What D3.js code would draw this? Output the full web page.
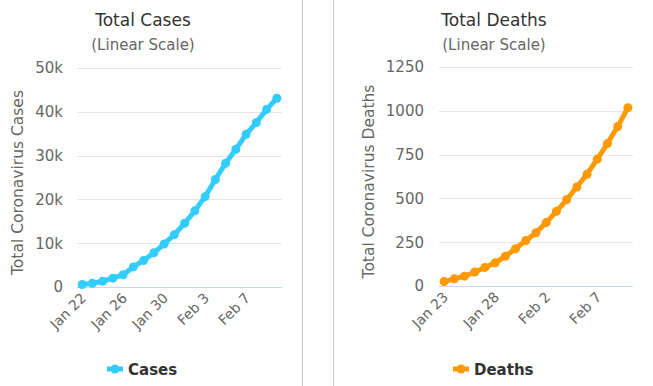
<!DOCTYPE html>
<html>
<head>
<meta charset="utf-8">
<script src="https://cdn.jsdelivr.net/npm/d3@7"></script>
<style>
  html, body { margin: 0; padding: 0; background: #fff; }
  svg { display: block; font-family: "DejaVu Sans", Verdana, sans-serif; }
</style>
</head>
<body>
<svg id="chart" width="653" height="386"></svg>
<script>
// ---- Data ----
const caseDates = ["Jan 22","Jan 23","Jan 24","Jan 25","Jan 26","Jan 27","Jan 28","Jan 29","Jan 30","Jan 31",
                   "Feb 1","Feb 2","Feb 3","Feb 4","Feb 5","Feb 6","Feb 7","Feb 8","Feb 9","Feb 10"];
const caseValues = [580, 845, 1317, 2015, 2800, 4581, 6058, 7813, 9823, 11950,
                    14553, 17391, 20630, 24545, 28266, 31439, 34876, 37552, 40553, 43099];
const caseTickLabels = ["Jan 22","Jan 26","Jan 30","Feb 3","Feb 7"];
const caseYTicks = [0, 10000, 20000, 30000, 40000, 50000];
const caseYTickLabels = ["0","10k","20k","30k","40k","50k"];

const deathDates = ["Jan 23","Jan 24","Jan 25","Jan 26","Jan 27","Jan 28","Jan 29","Jan 30","Jan 31",
                    "Feb 1","Feb 2","Feb 3","Feb 4","Feb 5","Feb 6","Feb 7","Feb 8","Feb 9","Feb 10"];
const deathValues = [25, 41, 56, 80, 106, 132, 170, 213, 259,
                     304, 362, 426, 492, 565, 638, 724, 813, 910, 1018];
const deathTickLabels = ["Jan 23","Jan 28","Feb 2","Feb 7"];
const deathYTicks = [0, 250, 500, 750, 1000, 1250];
const deathYTickLabels = ["0","250","500","750","1000","1250"];

const svg = d3.select("#chart");
svg.append("rect").attr("width", 653).attr("height", 386).attr("fill", "#fff");

// panel dividers
[302.5, 333.5].forEach(x => {
  svg.append("line").attr("x1", x).attr("x2", x).attr("y1", 0).attr("y2", 386)
    .attr("stroke", "#cccccc").attr("stroke-width", 1);
});

function drawPanel(cfg) {
  const g = svg.append("g");
  const x = d3.scalePoint().domain(cfg.dates).range([cfg.x0, cfg.x1]).padding(0.5);
  const y = d3.scaleLinear().domain([0, cfg.yMax]).range([cfg.yBottom, cfg.yTop]);

  // title & subtitle
  g.append("text").attr("x", cfg.titleX).attr("y", 26).attr("text-anchor", "middle")
    .attr("font-size", 17).attr("fill", "#333333").text(cfg.title);
  g.append("text").attr("x", cfg.titleX).attr("y", 50).attr("text-anchor", "middle")
    .attr("font-size", 15).attr("fill", "#666666").text("(Linear Scale)");

  // grid lines
  g.selectAll(".grid").data(cfg.yTicks.filter(v => v > 0)).enter().append("line")
    .attr("x1", cfg.x0).attr("x2", cfg.x1)
    .attr("y1", d => Math.round(y(d)) + 0.5).attr("y2", d => Math.round(y(d)) + 0.5)
    .attr("stroke", "#e6e6e6").attr("stroke-width", 1);

  // y tick labels
  g.selectAll(".yl").data(cfg.yTicks).enter().append("text")
    .attr("x", cfg.yLabelX).attr("y", d => y(d)).attr("dy", "0.36em")
    .attr("text-anchor", "end").attr("font-size", 15).attr("fill", "#666666")
    .text((d, i) => cfg.yTickLabels[i]);

  // y axis title
  g.append("text")
    .attr("transform", `translate(${cfg.yTitleX},${(cfg.yTop + cfg.yBottom) / 2 + 5}) rotate(-90)`)
    .attr("text-anchor", "middle").attr("font-size", 15.5).attr("fill", "#666666")
    .text(cfg.yTitle);

  // x axis line
  g.append("line").attr("x1", cfg.x0).attr("x2", cfg.x1)
    .attr("y1", Math.round(cfg.yBottom) + 0.5).attr("y2", Math.round(cfg.yBottom) + 0.5)
    .attr("stroke", "#ccd6eb").attr("stroke-width", 1);

  // x tick labels (rotated)
  g.selectAll(".xl").data(cfg.tickLabels).enter().append("text")
    .attr("transform", d => `translate(${x(d) + 5},${cfg.yBottom + 12}) rotate(-45)`)
    .attr("text-anchor", "end").attr("font-size", 14).attr("fill", "#666666")
    .text(d => d);

  // line
  const line = d3.line().x((d, i) => x(cfg.dates[i])).y(d => y(d)).curve(d3.curveLinear);
  g.append("path").datum(cfg.values).attr("d", line)
    .attr("fill", "none").attr("stroke", cfg.color).attr("stroke-width", 5)
    .attr("stroke-linejoin", "round").attr("stroke-linecap", "round");
  g.selectAll(".pt").data(cfg.values).enter().append("circle")
    .attr("cx", (d, i) => x(cfg.dates[i])).attr("cy", d => y(d)).attr("r", 4.5)
    .attr("fill", cfg.color);

  // legend
  const ly = 369;
  g.append("line").attr("x1", cfg.legendX).attr("x2", cfg.legendX + 16)
    .attr("y1", ly).attr("y2", ly).attr("stroke", cfg.color).attr("stroke-width", 5);
  g.append("circle").attr("cx", cfg.legendX + 8).attr("cy", ly).attr("r", 4.5).attr("fill", cfg.color);
  g.append("text").attr("x", cfg.legendX + 21).attr("y", ly + 5.5)
    .attr("font-size", 15).attr("font-weight", "bold").attr("fill", "#333333")
    .text(cfg.legend);
}

drawPanel({
  dates: caseDates, values: caseValues, tickLabels: caseTickLabels,
  yTicks: caseYTicks, yTickLabels: caseYTickLabels, yMax: 50000,
  x0: 77, x1: 282, yTop: 68, yBottom: 287,
  title: "Total Cases", titleX: 143, yLabelX: 63, yTitleX: 23,
  yTitle: "Total Coronavirus Cases", color: "#33ccff",
  legend: "Cases", legendX: 107
});

drawPanel({
  dates: deathDates, values: deathValues, tickLabels: deathTickLabels,
  yTicks: deathYTicks, yTickLabels: deathYTickLabels, yMax: 1250,
  x0: 439, x1: 633, yTop: 67, yBottom: 286,
  title: "Total Deaths", titleX: 494, yLabelX: 424, yTitleX: 374,
  yTitle: "Total Coronavirus Deaths", color: "#ff9900",
  legend: "Deaths", legendX: 453
});
</script>
</body>
</html>
